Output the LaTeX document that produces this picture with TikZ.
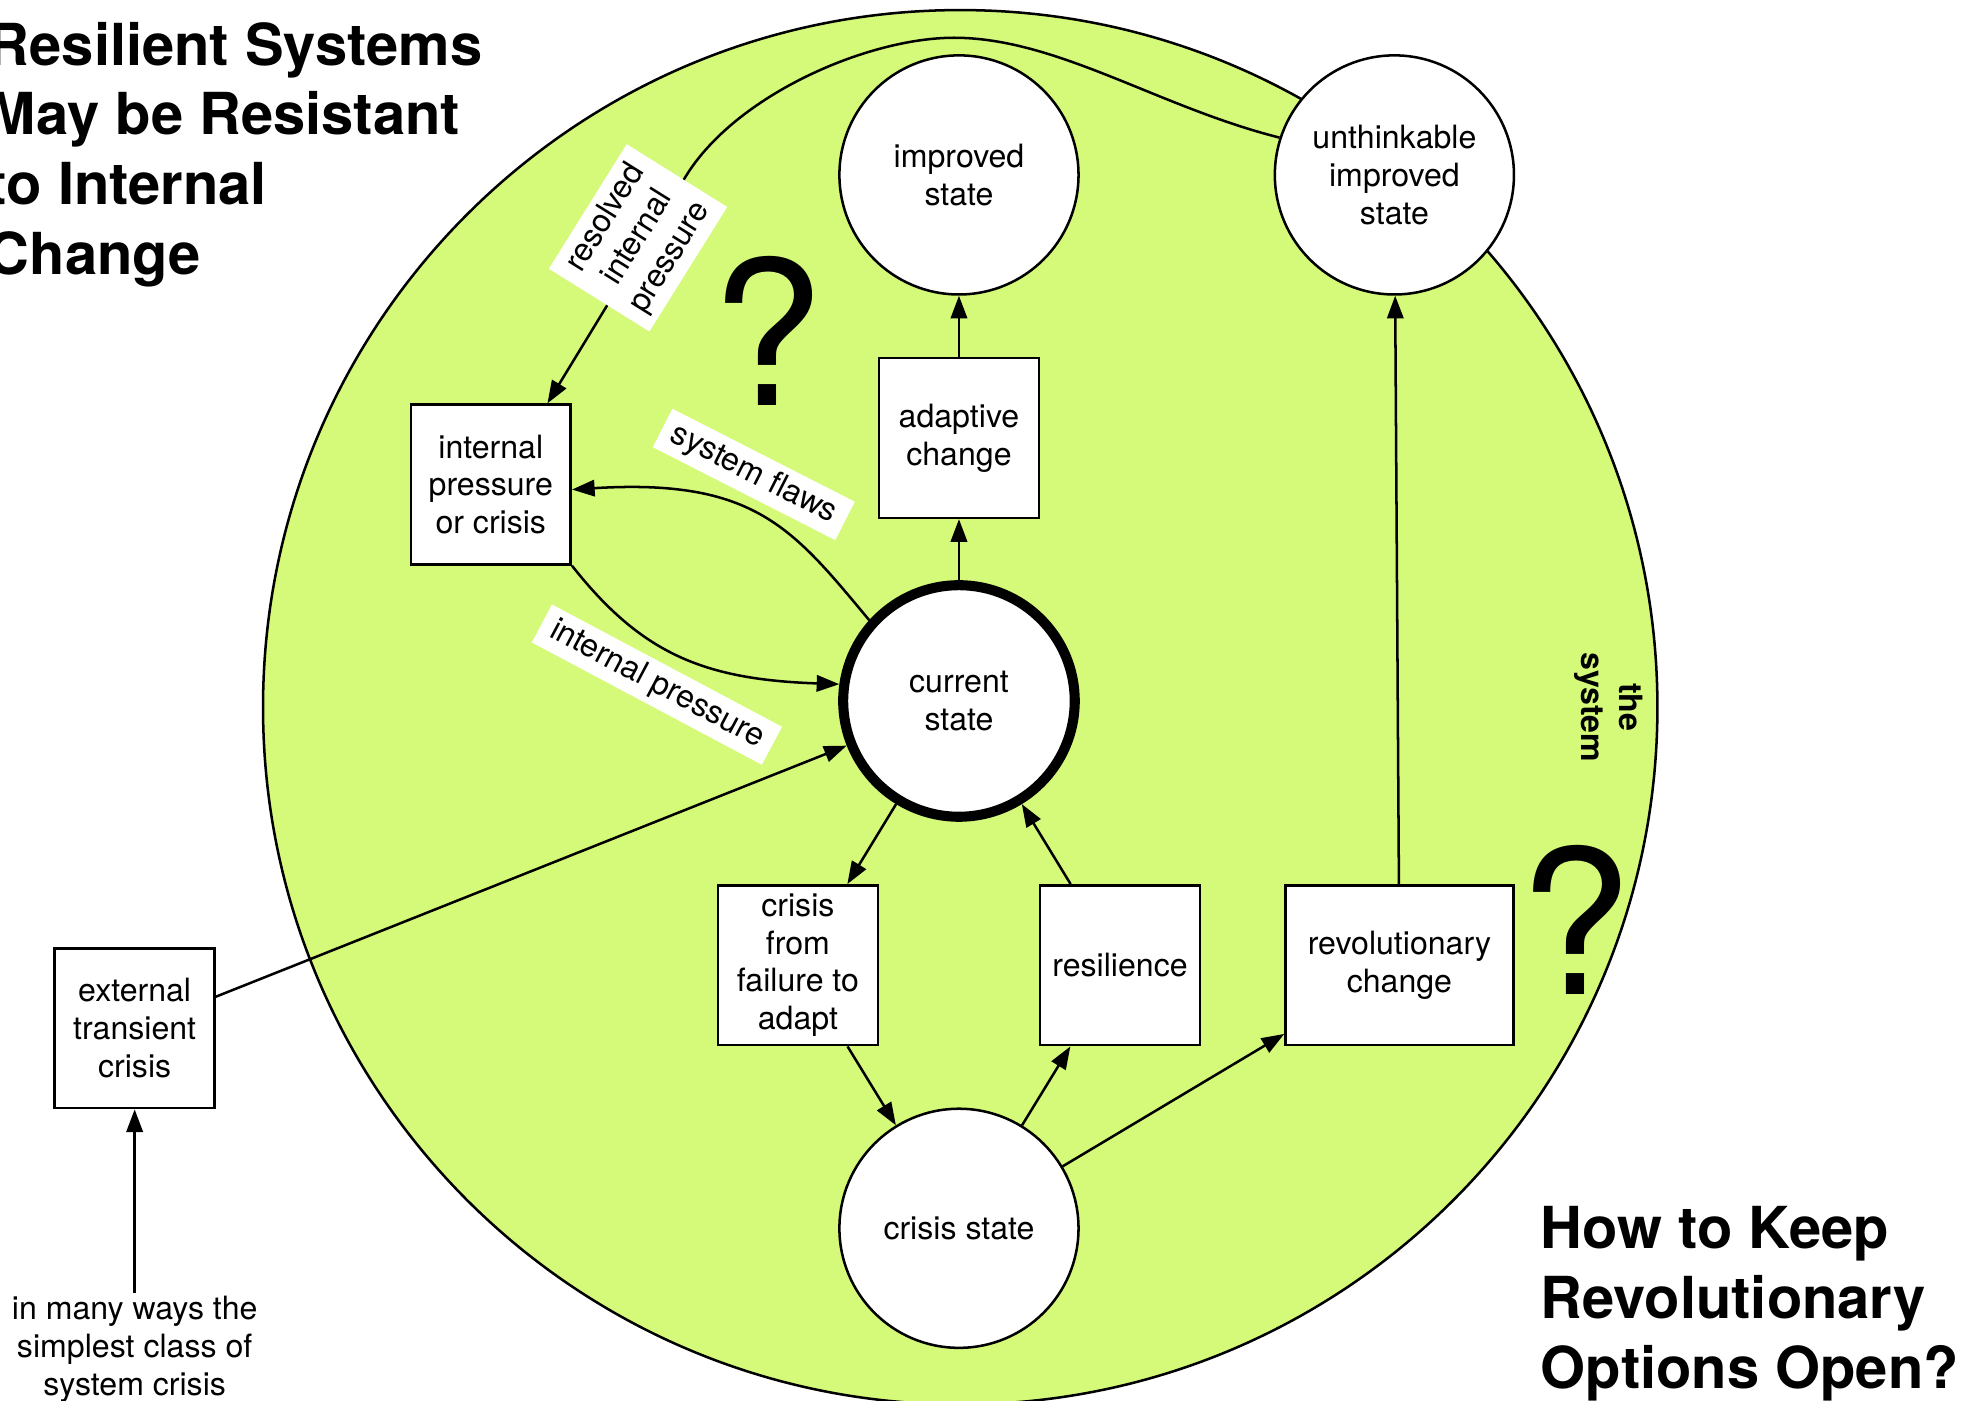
\documentclass[tikz,border=0pt]{standalone}
\usepackage{fontspec}
\setmainfont{TeX Gyre Heros}
\usetikzlibrary{arrows.meta}
\definecolor{sysgreen}{RGB}{213,250,122}
\begin{document}
\begin{tikzpicture}[x=0.5pt,y=-0.5pt,
  every node/.style={font=\fontsize{12.75}{15}\selectfont},
  sbox/.style={draw,fill=white,line width=1pt,minimum width=63.5pt,minimum height=63.5pt,align=center,inner sep=2pt},
  stnode/.style={draw,fill=white,circle,line width=1pt,minimum size=95pt,align=center,inner sep=1pt},
  arr/.style={line width=1pt,-{Triangle[length=9pt,width=6.5pt]}},
  lbl/.style={fill=white,align=center,inner xsep=4.5pt,inner ysep=2.5pt},
  ttl/.style={font=\fontsize{23}{27.8}\selectfont\bfseries,align=left,inner sep=0pt},
  qm/.style={font=\fontsize{80}{80}\selectfont,inner sep=0pt,anchor=base}
]
\useasboundingbox (0,0) rectangle (1563,1113);
\fill[sysgreen] (763,562) circle[radius=277pt];
\draw[line width=1pt] (763,562) circle[radius=277pt];

% nodes
\node[stnode] (imp) at (762,139) {improved\\state};
\node[stnode] (unth) at (1108,139) {unthinkable\\improved\\state};
\node[sbox] (adapt) at (762,348) {adaptive\\change};
\node[sbox] (ipc) at (390,385) {internal\\pressure\\or crisis};
\node[stnode,line width=4pt,minimum size=92pt] (cur) at (762,557) {current\\state};
\node[sbox] (cff) at (634,767) {crisis\\from\\failure to\\adapt};
\node[sbox] (res) at (890,767) {resilience};
\node[sbox,minimum width=90.5pt] (rev) at (1112,767) {revolutionary\\change};
\node[sbox] (ext) at (107,817) {external\\transient\\crisis};
\node[stnode] (cst) at (762,976) {crisis state};
\node[align=center,inner sep=1pt] (note) at (107,1072) {in many ways the\\simplest class of\\system crisis};

% connectors
\draw[arr] (cur) -- (adapt);
\draw[arr] (adapt) -- (imp);
\draw[arr] (rev) -- (unth);
\draw[arr] (cur) -- (cff);
\draw[arr] (cff) -- (cst);
\draw[arr] (cst) -- (res);
\draw[arr] (res) -- (cur);
\draw[arr] (cst) -- (rev);
\draw[arr] ([yshift=12.5pt]ext.east) -- (cur);
\draw[arr] (note) -- (ext);
\draw[arr] (cur.138) .. controls (630,420) and (600,380) .. ([yshift=-2pt]ipc.east);
\draw[arr] (ipc.south east) .. controls (510,520) and (560,540) .. (cur.172);
\coordinate (peak) at (758,30);
\coordinate (bend) at (545,140);
\draw[arr] (unth.162) .. controls (920,85) and (840,30) .. (peak)
  .. controls (690,30) and (585,75) .. (bend) -- ([xshift=22.5pt]ipc.north);

% labels
\node[lbl,rotate=58] (lres) at (507,189) {resolved\\internal\\pressure};
\node[lbl,rotate=-27] (lsf) at (599,377) {system flaws};
\node[lbl,rotate=-28] (lip) at (522,544) {internal pressure};

\node[qm] (q1) at (610,322) {?};
\node[qm] (q2) at (1252,790) {?};

\node[font=\fontsize{12.75}{15}\selectfont\bfseries,rotate=-90,align=center] (sys) at (1278,562) {the\\system};

\node[ttl,anchor=north west] (t1) at (-10,17) {Resilient Systems\\May be Resistant\\to Internal\\Change};
\node[ttl,anchor=north west] (t2) at (1224,958) {How to Keep\\Revolutionary\\Options Open?};
\end{tikzpicture}
\end{document}
